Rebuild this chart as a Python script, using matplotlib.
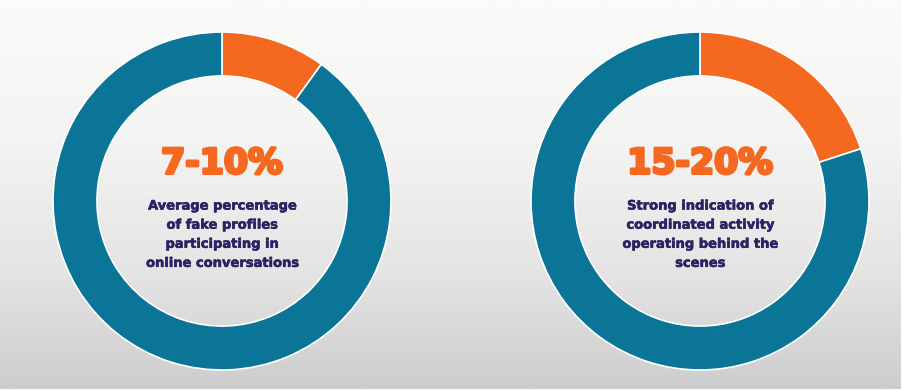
import numpy as np
import matplotlib.pyplot as plt
import matplotlib.patheffects as pe
from matplotlib.colors import LinearSegmentedColormap

# share of fake profiles shown in each donut (percent)
left_share = [10, 90]
right_share = [20, 80]
left_big = "7-10%"
right_big = "15-20%"
left_lines = ["Average percentage", "of fake profiles", "participating in", "online conversations"]
right_lines = ["Strong indication of", "coordinated activity", "operating behind the", "scenes"]

orange = "#f4691f"
blue = "#0a7596"
navy = "#2a2363"

fig = plt.figure(figsize=(9.03, 3.91), dpi=100)

# soft grey backdrop, lighter at the top
bg = fig.add_axes([0, 2 / 391, 901 / 903, 389 / 391])
cmap = LinearSegmentedColormap.from_list(
    "bg", [(0, "#fbfbfa"), (0.35, "#f4f4f3"), (0.7, "#e4e4e4"), (1, "#cdcdcd")])
bg.imshow(np.linspace(0, 1, 256).reshape(-1, 1), aspect="auto", cmap=cmap,
          extent=[0, 1, 0, 1], origin="upper")
bg.axis("off")


def donut(cx, share, big, lines):
    r = 169
    ax = fig.add_axes([(cx - r) / 903, (190 - r) / 391, 2 * r / 903, 2 * r / 391])
    ax.pie(share, colors=[orange, blue], startangle=90, counterclock=False,
           radius=1, wedgeprops=dict(width=0.26, edgecolor="white", linewidth=1.2))
    ax.set_xlim(-1, 1)
    ax.set_ylim(-1, 1)
    ax.set_aspect("auto")
    ax.axis("off")
    ax.text(0, 0.222, big, ha="center", va="center", color=orange,
            fontsize=25, fontweight="bold", family="DejaVu Sans",
            path_effects=[pe.withStroke(linewidth=2.2, foreground=orange)])
    for i, line in enumerate(lines):
        ax.text(0, -0.03 - 0.113 * i, line, ha="center", va="center", color=navy,
                fontsize=9.4, fontweight="bold", family="DejaVu Sans",
                path_effects=[pe.withStroke(linewidth=0.4, foreground=navy)])


donut(222, left_share, left_big, left_lines)
donut(700, right_share, right_big, right_lines)

fig.savefig("out.png", dpi=100, facecolor="white")
